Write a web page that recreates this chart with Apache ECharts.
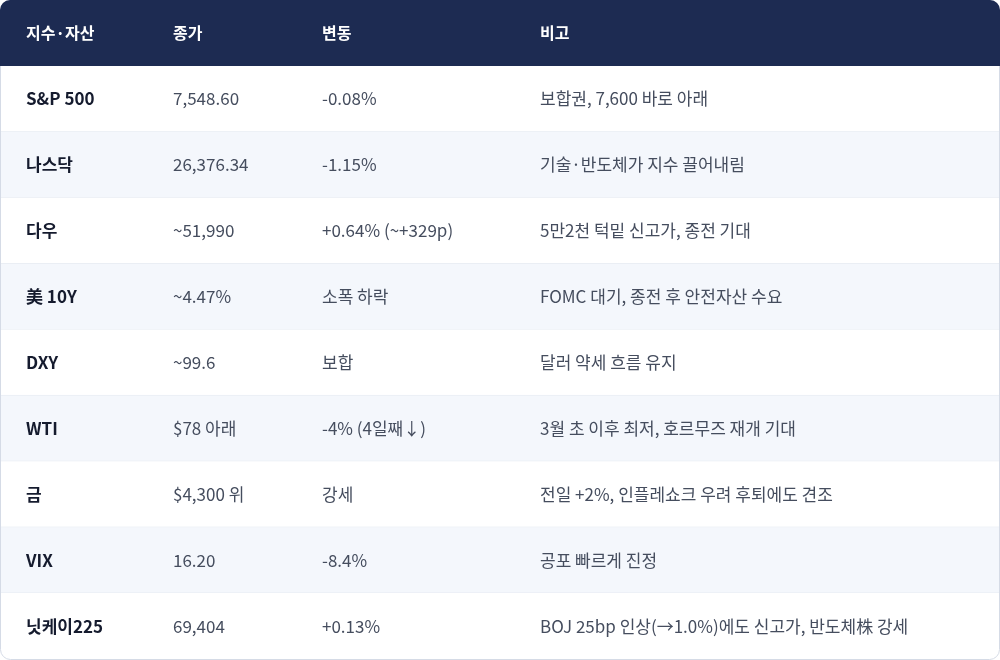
<!DOCTYPE html>
<html>
<head>
<meta charset="utf-8">
<script src="https://cdn.jsdelivr.net/npm/echarts@6/dist/echarts.min.js"></script>
<style>
  html, body { margin: 0; padding: 0; background: #ffffff; }
  #main { width: 1000px; height: 660px; }
</style>
</head>
<body>
<div id="main"></div>
<script>
var headers = ['지수·자산', '종가', '변동', '비고'];
var assets = ['S&P 500', '나스닥', '다우', '美 10Y', 'DXY', 'WTI', '금', 'VIX', '닛케이225'];
var closes = ['7,548.60', '26,376.34', '~51,990', '~4.47%', '~99.6', '$78 아래', '$4,300 위', '16.20', '69,404'];
var changes = ['-0.08%', '-1.15%', '+0.64% (~+329p)', '소폭 하락', '보합', '-4% (4일째↓)', '강세', '-8.4%', '+0.13%'];
var notes = [
  '보합권, 7,600 바로 아래',
  '기술·반도체가 지수 끌어내림',
  '5만2천 턱밑 신고가, 종전 기대',
  'FOMC 대기, 종전 후 안전자산 수요',
  '달러 약세 흐름 유지',
  '3월 초 이후 최저, 호르무즈 재개 기대',
  '전일 +2%, 인플레쇼크 우려 후퇴에도 견조',
  '공포 빠르게 진정',
  'BOJ 25bp 인상(→1.0%)에도 신고가, 반도체株 강세'
];

var colX = [26, 173, 322, 540];
var font = '"Noto Sans CJK KR", "Noto Sans", sans-serif';

var chart = echarts.init(document.getElementById('main'));

chart.setOption({
  animation: false,
  grid: { left: 1, right: 1, top: 66, bottom: 1 },
  xAxis: { type: 'value', min: 0, max: 1000, show: false },
  yAxis: { type: 'category', data: assets, inverse: true, show: false },
  graphic: [
    {
      type: 'rect', z: 0,
      shape: { x: 0.5, y: 0.5, width: 999, height: 659, r: 10 },
      style: { fill: '#ffffff', stroke: '#d5dbe6', lineWidth: 1 }
    },
    {
      type: 'rect', z: 1,
      shape: { x: 0, y: 0, width: 1000, height: 66, r: [10, 10, 0, 0] },
      style: { fill: '#1d2b52' }
    }
  ].concat(headers.map(function (h, i) {
    return {
      type: 'text', z: 2, x: colX[i], y: 33,
      style: { text: h, fill: '#ffffff', font: 'bold 16px ' + font, verticalAlign: 'middle' }
    };
  })),
  series: [{
    type: 'custom',
    data: assets.map(function (a, i) { return [0, i]; }),
    renderItem: function (params, api) {
      var i = api.value(1);
      var c = api.coord([0, i]);
      var h = api.size([0, 1])[1];
      var top = c[1] - h / 2;
      var cells = [assets[i], closes[i], changes[i], notes[i]];
      var children = [
        { type: 'rect', shape: { x: 1, y: top, width: 998, height: h - (i === assets.length - 1 ? 10 : 0) },
          style: { fill: i % 2 === 1 ? '#f4f7fc' : '#ffffff' } }
      ];
      if (i < assets.length - 1) {
        children.push({ type: 'line', shape: { x1: 1, y1: top + h, x2: 999, y2: top + h },
          style: { stroke: '#e3e8f0', lineWidth: 1 } });
      }
      cells.forEach(function (t, j) {
        children.push({
          type: 'text', x: colX[j], y: c[1],
          style: {
            text: t, verticalAlign: 'middle',
            fill: j === 0 ? '#151b2e' : '#454d5e',
            font: (j === 0 ? 'bold ' : '') + '17px ' + font
          }
        });
      });
      return { type: 'group', children: children };
    }
  }]
});
</script>
</body>
</html>
